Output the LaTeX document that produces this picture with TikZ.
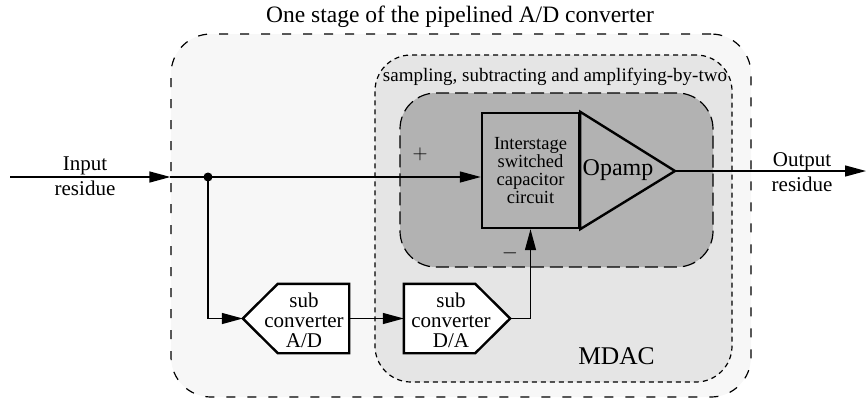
\documentclass[tikz,border=0pt]{standalone}
\usepackage{fontspec}
\setmainfont{Liberation Serif}
\usetikzlibrary{arrows.meta}
\definecolor{stagefill}{gray}{0.97}
\definecolor{mdacfill}{gray}{0.90}
\definecolor{corefill}{gray}{0.70}

\begin{document}
\begin{tikzpicture}[
    x=1pt, y=-1pt,
    frame/.style={draw, line width=1.2pt, inner sep=0pt},
    block/.style={draw, line width=2.4pt, align=center, inner sep=0pt},
    convbox/.style={minimum width=106pt, minimum height=69pt, inner sep=0pt},
    convtext/.style={align=center, font=\fontsize{21}{20}\selectfont},
    wire/.style={line width=1.3pt},
    arr/.style={wire, -{Triangle[length=21pt, width=11pt]}},
    label/.style={font=\fontsize{21}{25}\selectfont, align=center}
]
\useasboundingbox (0,0) rectangle (866,402);

% Frames
\node[frame, fill=stagefill, rounded corners=40pt, dash pattern=on 9pt off 12pt,
    minimum width=580pt, minimum height=363pt] (stage) at (461,215.5) {};
\node[frame, fill=mdacfill, rounded corners=36pt, dash pattern=on 5pt off 4pt,
    minimum width=357pt, minimum height=327pt] (mdac) at (553.5,218.5) {};
\node[frame, fill=corefill, rounded corners=36pt, dash pattern=on 13pt off 6pt,
    minimum width=313pt, minimum height=174pt] (core) at (556.5,180) {};

% Nodes
\node[block, minimum width=97pt, minimum height=115pt,
    font=\fontsize{18.5}{18}\selectfont] (swcap) at (530.5,170.5)
    {Interstage\\switched\\capacitor\\circuit};
\coordinate (tip) at (675,171);
\draw[block] (swcap.north east) -- (tip) -- (swcap.south east) -- cycle;
\node[font=\fontsize{24}{24}\selectfont] (opamp) at (618,170) {Opamp};

% Sub converters
\node[convbox] (subad) at (296,318.5) {};
\draw[block, fill=white] (subad.west) -- ([xshift=35pt]subad.north west)
    -- (subad.north east) -- (subad.south east)
    -- ([xshift=35pt]subad.south west) -- cycle;
\node[convtext] (adtext) at (304,320) {sub\\converter\\A/D};
\node[convbox] (subda) at (457,318.5) {};
\draw[block, fill=white] (subda.north west) -- ([xshift=-35pt]subda.north east)
    -- (subda.east) -- ([xshift=-35pt]subda.south east)
    -- (subda.south west) -- cycle;
\node[convtext] (datext) at (451,320) {sub\\converter\\D/A};

\coordinate (in) at (10,177);
\coordinate (out) at (866,171);
\fill (208,177) circle (4.5pt) coordinate (split);

% Labels
\node[font=\fontsize{23.5}{25}\selectfont] (title) at (460,17)
    {One stage of the pipelined A/D converter};
\node[font=\fontsize{19}{20}\selectfont] (samplbl) at (555,77)
    {sampling, subtracting and amplifying-by-two};
\node[font=\fontsize{25.5}{25}\selectfont] (mdaclbl) at (616.5,356) {MDAC};
\node[label] (inlbl) at (85,176) {Input\\residue};
\node[label] (outlbl) at (802,172) {Output\\residue};
\node[font=\fontsize{22}{22}\selectfont] (plus) at (420,154) {$+$};
\node[font=\fontsize{22}{22}\selectfont] (minus) at (510,253) {$-$};

% Edges
\draw[arr] (in) -- (stage.west |- in);
\draw[wire] (stage.west |- in) -- (split);
\draw[arr] (split) -- (in -| swcap.west);
\draw[arr] (tip) -- (out);
\draw[arr] (split) |- (subad.west);
\draw[arr] (subad.east) -- (subda.west);
\draw[arr] (subda.east) -| (swcap.south);

\end{tikzpicture}
\end{document}
